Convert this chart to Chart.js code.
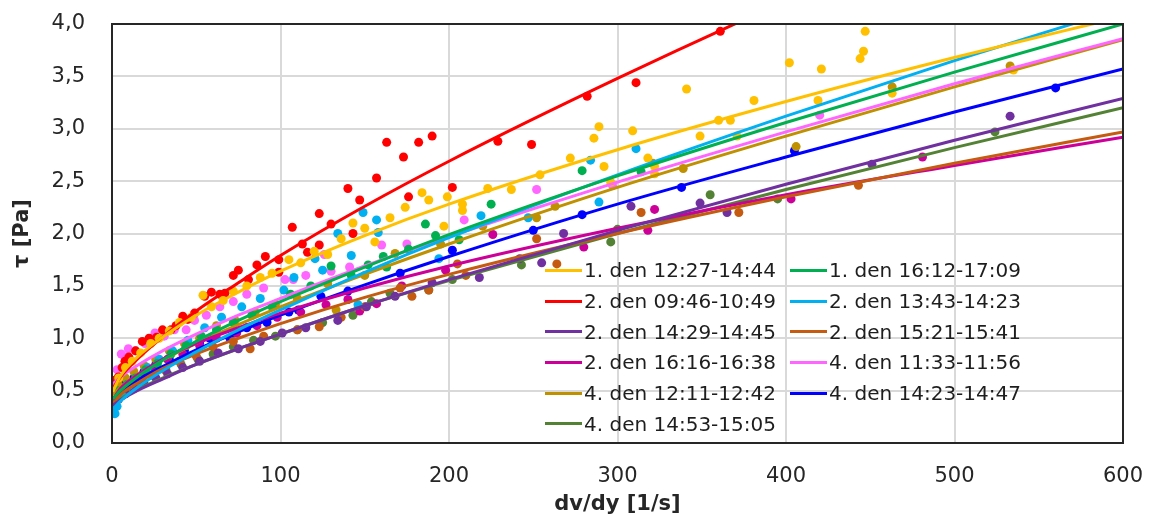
<!DOCTYPE html>
<html>
<head>
<meta charset="utf-8">
<script src="https://cdn.jsdelivr.net/npm/chart.js@4.4.1/dist/chart.umd.min.js"></script>
<style>
  html, body { margin: 0; padding: 0; background: #fff; }
  #wrap { position: relative; width: 1151px; height: 517px; }
  #legend {
    position: absolute; left: 545px; top: 255px;
    display: grid; grid-template-columns: 245px 245px;
    font: 20px "DejaVu Sans", sans-serif; color: #1e1e1e;
  }
  .item { display: flex; align-items: center; height: 30.7px; white-space: nowrap; }
  .swatch { width: 37px; height: 3px; margin-right: 2px; }
</style>
</head>
<body>
<div id="wrap">
  <canvas id="chart" width="1151" height="517"></canvas>
  <div id="legend"></div>
</div>
<script>
// měření: smyková rychlost [1/s] -> smykové napětí [Pa]
const SERIES = [
  "1. den 12:27-14:44", "1. den 16:12-17:09",
  "2. den 09:46-10:49", "2. den 13:43-14:23",
  "2. den 14:29-14:45", "2. den 15:21-15:41",
  "2. den 16:16-16:38", "4. den 11:33-11:56",
  "4. den 12:11-12:42", "4. den 14:23-14:47",
  "4. den 14:53-15:05"
];
const COLORS = ["#FFC000", "#00B050", "#FF0000", "#00B0F0", "#7030A0", "#C55A11",
                "#CC0099", "#FF66FF", "#BF9000", "#0000FF", "#548235"];

const X_TICKS = [0, 100, 200, 300, 400, 500, 600];
const Y_TICKS = [0, 0.5, 1, 1.5, 2, 2.5, 3, 3.5, 4];

// body proložených křivek
const FIT_X = [0.5, 5, 15, 30, 50, 75, 100, 150, 200, 300, 400, 500, 600];
const fit_1_1227 = [0.49, 0.64, 0.82, 1.01, 1.22, 1.44, 1.64, 1.98, 2.28, 2.80, 3.26, 3.68, 4.07];
const fit_1_1612 = [0.42, 0.50, 0.63, 0.79, 0.97, 1.17, 1.35, 1.68, 1.99, 2.55, 3.06, 3.54, 4.00];
const fit_2_0946 = [0.52, 0.63, 0.80, 1.01, 1.26, 1.53, 1.79, 2.26, 2.69, 3.48, 4.22, 4.91, 5.57];
const fit_2_1343 = [0.32, 0.40, 0.53, 0.69, 0.87, 1.08, 1.27, 1.63, 1.96, 2.56, 3.12, 3.65, 4.15];
const fit_2_1429 = [0.36, 0.41, 0.50, 0.61, 0.75, 0.90, 1.04, 1.31, 1.56, 2.03, 2.47, 2.89, 3.29];
const fit_2_1521 = [0.37, 0.46, 0.57, 0.71, 0.85, 1.00, 1.14, 1.39, 1.61, 2.00, 2.35, 2.67, 2.97];
const fit_2_1616 = [0.41, 0.52, 0.65, 0.80, 0.95, 1.10, 1.24, 1.48, 1.69, 2.05, 2.37, 2.65, 2.92];
const fit_4_1133 = [0.56, 0.63, 0.74, 0.88, 1.04, 1.22, 1.38, 1.69, 1.97, 2.49, 2.97, 3.43, 3.86];
const fit_4_1211 = [0.46, 0.53, 0.65, 0.79, 0.95, 1.13, 1.30, 1.61, 1.90, 2.44, 2.93, 3.40, 3.85];
const fit_4_1423 = [0.42, 0.49, 0.60, 0.73, 0.89, 1.06, 1.22, 1.51, 1.78, 2.28, 2.73, 3.16, 3.57];
const fit_4_1453 = [0.36, 0.42, 0.51, 0.62, 0.75, 0.90, 1.04, 1.31, 1.55, 2.00, 2.42, 2.82, 3.20];

// naměřené body [dv/dy, tau]
const pts_1_1227 = [[1,0.45],[4,0.62],[8,0.72],[12,0.78],[17,0.86],[23,0.95],[28,1.0],[34,1.07],[40,1.15],[47,1.2],
  [54,1.41],[59,1.3],[66,1.36],[72,1.45],[80,1.5],[88,1.58],[95,1.62],[105,1.75],[112,1.72],[120,1.83],[128,1.8],
  [136,1.95],[143,2.1],[150,2.05],[156,1.92],[165,2.15],[174,2.25],[184,2.39],[188,2.32],[197,2.07],[199,2.35],
  [208,2.28],[208,2.22],[223,2.43],[237,2.42],[254,2.56],[272,2.72],[286,2.91],[289,3.02],[292,2.64],[296,2.49],
  [309,2.98],[318,2.72],[322,2.64],[322,2.57],[341,3.38],[349,2.93],[360,3.08],[367,3.08],[371,2.93],[381,3.27],
  [402,3.63],[419,3.27],[421,3.57],[444,3.67],[446,3.74],[447,3.93],[463,3.34],[535,3.56]];
const pts_1_1612 = [[1,0.4],[4,0.5],[9,0.56],[14,0.62],[20,0.7],[27,0.76],[35,0.85],[44,0.93],[53,1.02],[62,1.08],
  [72,1.15],[83,1.22],[95,1.3],[106,1.42],[118,1.5],[130,1.69],[142,1.6],[152,1.7],[161,1.78],[163,1.68],[176,1.85],
  [186,2.09],[192,1.98],[206,1.94],[225,2.28],[279,2.6],[314,2.59]];
const pts_2_0946 = [[1.5,0.6],[3.8,0.63],[6,0.72],[7.7,0.78],[10,0.82],[14,0.88],[18,0.97],[22,1.0],[26.5,1.01],[30,1.08],
  [35,1.08],[38,1.12],[42,1.21],[45,1.18],[49,1.24],[55,1.4],[59,1.44],[64,1.42],[67,1.43],[72,1.6],[75,1.65],
  [81,1.56],[86,1.7],[91,1.78],[99,1.75],[99,1.63],[107,2.06],[113,1.9],[116,1.82],[123,2.19],[123,1.89],[130,2.09],
  [140,2.43],[143,2.0],[147,2.32],[157,2.53],[163,2.87],[173,2.73],[176,2.35],[182,2.87],[190,2.93],[202,2.44],
  [229,2.88],[249,2.85],[282,3.31],[311,3.44],[361,3.93]];
const pts_2_1343 = [[1.8,0.28],[3,0.35],[6,0.45],[10,0.55],[15,0.62],[21,0.72],[28,0.8],[36,0.88],[45,0.98],[55,1.1],
  [65,1.2],[77,1.3],[88,1.38],[102,1.46],[108,1.58],[120.5,1.76],[125,1.65],[134,2.0],[142,1.79],[146,1.32],[149,2.2],
  [157,2.13],[158,2.01],[194,1.76],[219,2.17],[247,2.15],[284,2.7],[289,2.3],[311,2.81]];
const pts_2_1429 = [[1,0.35],[4,0.42],[8,0.47],[13,0.52],[19,0.57],[26,0.62],[33,0.66],[42,0.72],[52,0.78],[63,0.86],
  [75,0.9],[88,0.97],[101,1.05],[115,1.1],[134,1.17],[151,1.3],[168,1.4],[190,1.53],[218,1.58],[242,1.76],[255,1.72],
  [268,2.0],[308,2.26],[349,2.29],[365,2.2],[451,2.66],[533,3.12]];
const pts_2_1521 = [[1.5,0.38],[5,0.45],[10,0.52],[16,0.58],[23,0.65],[31,0.7],[40,0.78],[50,0.83],[60,0.92],[72,0.97],
  [82,0.9],[90,1.02],[110,1.08],[123,1.11],[136,1.2],[150,1.3],[171,1.48],[178,1.4],[188,1.46],[205,1.71],[210,1.6],
  [252,1.95],[264,1.71],[314,2.2],[372,2.2],[443,2.46]];
const pts_2_1616 = [[1,0.33],[3,0.42],[7,0.5],[12,0.58],[18,0.65],[25,0.72],[33,0.8],[42,0.85],[52,0.93],[62,1.0],
  [74,1.05],[86,1.12],[98,1.2],[112,1.25],[127,1.32],[140,1.37],[147,1.26],[157,1.33],[172,1.5],[198,1.65],
  [226,1.99],[280,1.87],[318,2.03],[322,2.23],[403,2.33],[481,2.73]];
const pts_4_1133 = [[1,0.5],[3,0.7],[5.5,0.85],[7.7,0.82],[9.7,0.9],[14,0.88],[19.6,0.95],[25.5,1.05],[31,1.02],[37,1.08],
  [44,1.08],[49,1.17],[56,1.22],[64,1.3],[72,1.35],[80,1.42],[90,1.48],[102.7,1.56],[107.6,1.56],[115,1.6],[126,1.8],
  [130,1.64],[141,1.68],[160,1.89],[175,1.9],[209,2.13],[252,2.42],[297,2.46],[420,3.13]];
const pts_4_1211 = [[1,0.45],[4,0.55],[8,0.62],[13,0.68],[19,0.74],[26,0.8],[34,0.88],[43,0.95],[52,1.0],[62,1.12],
  [73,1.17],[85,1.25],[97,1.32],[110,1.38],[128,1.52],[133,1.27],[150,1.6],[168,1.81],[195,1.9],[220,2.07],
  [252,2.15],[263,2.26],[321,2.67],[339,2.62],[406,2.83],[463,3.4],[533,3.6]];
const pts_4_1423 = [[1,0.38],[4,0.5],[8,0.58],[13,0.62],[19,0.68],[26,0.75],[34,0.8],[43,0.88],[52,0.95],[58,1.0],
  [70,1.0],[80,1.1],[92,1.15],[105,1.25],[110.6,1.27],[124,1.4],[140,1.45],[171,1.62],[202,1.84],[250,2.03],
  [279,2.18],[338,2.44],[405,2.79],[560,3.39]];
const pts_4_1453 = [[0.6,0.39],[3,0.42],[6,0.48],[11,0.55],[17,0.6],[24,0.65],[32,0.7],[41,0.75],[51,0.8],[60,0.85],
  [72,0.92],[84,0.98],[97,1.02],[110,1.08],[125,1.15],[143,1.22],[154,1.35],[165,1.43],[188,1.46],[202,1.56],
  [243,1.7],[296,1.92],[300,2.04],[355,2.37],[395,2.33],[524,2.97]];

const FITS = [fit_1_1227, fit_1_1612, fit_2_0946, fit_2_1343, fit_2_1429, fit_2_1521,
              fit_2_1616, fit_4_1133, fit_4_1211, fit_4_1423, fit_4_1453];
const POINTS = [pts_1_1227, pts_1_1612, pts_2_0946, pts_2_1343, pts_2_1429, pts_2_1521,
                pts_2_1616, pts_4_1133, pts_4_1211, pts_4_1423, pts_4_1453];

const FONT = "'DejaVu Sans', sans-serif";
const TEXT = "#262626";

const datasets = [];
SERIES.forEach((name, i) => {
  datasets.push({
    type: "line",
    label: name,
    data: FITS[i].map((y, k) => ({ x: FIT_X[k], y })),
    borderColor: COLORS[i],
    borderWidth: 3,
    pointRadius: 0,
    cubicInterpolationMode: "monotone",
    fill: false,
    order: 0
  });
  datasets.push({
    type: "scatter",
    label: name + " body",
    data: POINTS[i].map(([x, y]) => ({ x, y })),
    backgroundColor: COLORS[i],
    borderWidth: 0,
    pointRadius: 4.5,
    order: 1
  });
});

// rámeček kolem grafu
const frame = {
  id: "frame",
  afterDatasetsDraw(chart) {
    const { ctx, chartArea: a } = chart;
    ctx.save();
    ctx.strokeStyle = TEXT;
    ctx.lineWidth = 2;
    ctx.strokeRect(a.left, a.top, a.right - a.left, a.bottom - a.top);
    ctx.restore();
  }
};

new Chart(document.getElementById("chart"), {
  type: "scatter",
  data: { datasets },
  plugins: [frame],
  options: {
    responsive: false,
    animation: false,
    devicePixelRatio: 1,
    layout: { padding: { top: 24, right: 28, left: 0, bottom: 0 } },
    plugins: { legend: { display: false }, tooltip: { enabled: false } },
    scales: {
      x: {
        type: "linear",
        min: X_TICKS[0],
        max: X_TICKS[X_TICKS.length - 1],
        afterFit: s => { s.height = 74; s.paddingLeft = 0; s.paddingRight = 0; },
        afterBuildTicks: s => { s.ticks = X_TICKS.map(v => ({ value: v })); },
        ticks: { font: { family: FONT, size: 21 }, color: TEXT, padding: 21 },
        grid: { color: "#d9d9d9", lineWidth: 2, drawTicks: false },
        border: { color: TEXT, width: 2 },
        title: { display: true, text: "dv/dy [1/s]", color: TEXT,
                 font: { family: FONT, size: 21, weight: "bold" }, padding: { top: 2, bottom: 0 } }
      },
      y: {
        min: Y_TICKS[0],
        max: Y_TICKS[Y_TICKS.length - 1],
        afterFit: s => { s.width = 112; s.paddingTop = 0; s.paddingBottom = 0; },
        afterBuildTicks: s => { s.ticks = Y_TICKS.map(v => ({ value: v })); },
        ticks: { font: { family: FONT, size: 21 }, color: TEXT, padding: 27,
                 callback: v => v.toFixed(1).replace(".", ",") },
        grid: { color: "#d9d9d9", lineWidth: 2, drawTicks: false },
        border: { color: TEXT, width: 2 },
        title: { display: true, text: "τ [Pa]", color: TEXT,
                 font: { family: FONT, size: 21, weight: "bold" }, padding: { top: 10, bottom: 0 } }
      }
    }
  }
});

// legenda uvnitř grafu
const legend = document.getElementById("legend");
SERIES.forEach((name, i) => {
  const item = document.createElement("div");
  item.className = "item";
  const sw = document.createElement("span");
  sw.className = "swatch";
  sw.style.background = COLORS[i];
  const txt = document.createElement("span");
  txt.textContent = name;
  item.append(sw, txt);
  legend.appendChild(item);
});
</script>
</body>
</html>
